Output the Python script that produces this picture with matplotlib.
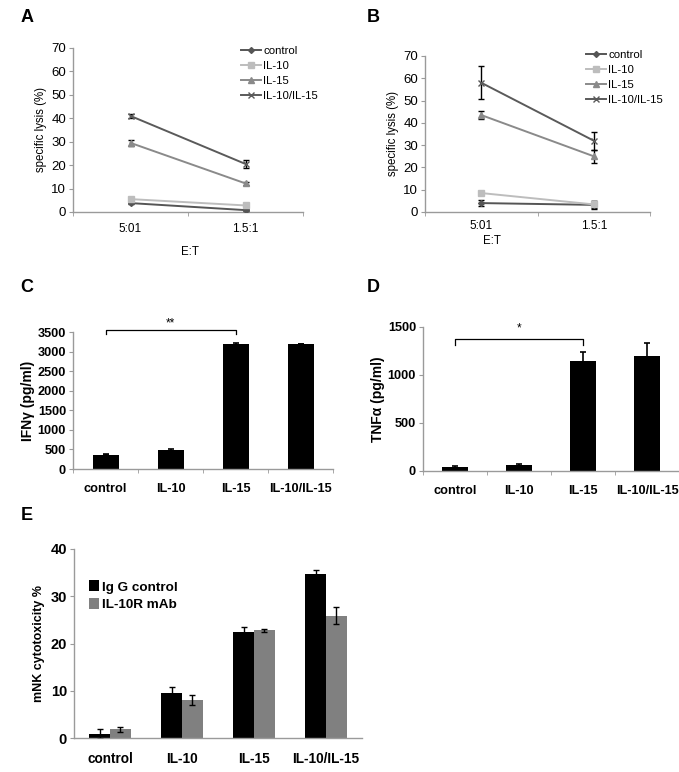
import numpy as np
import matplotlib.pyplot as plt

plt.rcParams['font.family'] = ['Liberation Sans', 'DejaVu Sans']

# cytotoxicity, E:T ratios (panels A, B)
et_labels = ['5:01', '1.5:1']
groups = ['control', 'IL-10', 'IL-15', 'IL-10/IL-15']
lysis_a = [[3.8, 0.8], [5.5, 2.8], [29.5, 12.2], [41.0, 20.5]]
lysis_a_err = [[0.3, 0.3], [0.4, 0.4], [1.2, 0.6], [0.7, 1.6]]
lysis_b = [[4.0, 3.2], [8.5, 3.4], [43.5, 25.0], [58.0, 32.0]]
lysis_b_err = [[1.3, 1.8], [0.5, 1.5], [1.8, 2.8], [7.5, 4.0]]

# cytokines (panels C, D)
cyto_labels = ['control', 'IL-10', 'IL-15', 'IL-10/IL-15']
ifng = [360, 490, 3195, 3195]
ifng_err = [15, 20, 15, 0]
tnfa = [40, 62, 1145, 1195]
tnfa_err = [8, 15, 90, 140]

# mNK cytotoxicity (panel E)
e_labels = ['control', 'IL-10', 'IL-15', 'IL-10/IL-15']
igg = [0.9, 9.6, 22.4, 34.7]
igg_err = [1.1, 1.1, 1.0, 0.9]
mab = [1.8, 8.0, 22.8, 25.9]
mab_err = [0.5, 1.0, 0.3, 1.8]

W, H = 679, 772
fig = plt.figure(figsize=(W / 100, H / 100), dpi=100)


def box(x0, y0, x1, y1):
    # pixel box (top-left origin) -> figure fraction
    return [x0 / W, 1 - y1 / H, (x1 - x0) / W, (y1 - y0) / H]


spine_col = '#9a9a9a'


def style_axes(ax, bold=False, yfs=7.5, xfs=7.5, xpad=8):
    for s in ['top', 'right']:
        ax.spines[s].set_visible(False)
    for s in ['left', 'bottom']:
        ax.spines[s].set_color(spine_col)
        ax.spines[s].set_linewidth(1.0)
    ax.tick_params(axis='y', length=3, color=spine_col, labelsize=yfs, pad=2)
    ax.tick_params(axis='x', which='major', length=0, labelsize=xfs, pad=xpad)
    ax.tick_params(axis='x', which='minor', length=3, color=spine_col)
    if bold:
        for t in ax.get_xticklabels() + ax.get_yticklabels():
            t.set_fontweight('bold')


line_cols = ['#555555', '#bdbdbd', '#8a8a8a', '#5a5a5a']
markers = ['D', 's', '^', 'x']
msizes = [3, 5, 4, 5]


def lysis_panel(rect, vals, errs, legend_xy, xpad):
    ax = fig.add_axes(rect)
    x = np.arange(len(et_labels)) + 0.5
    for i, g in enumerate(groups):
        ax.errorbar(x, vals[i], yerr=errs[i], color=line_cols[i], marker=markers[i],
                    ms=msizes[i], lw=1.4, ecolor='black', elinewidth=1.0,
                    capsize=2.5, capthick=1.0, label=g, zorder=3)
    ax.set_xlim(0, 2)
    ax.set_ylim(0, 70)
    ax.set_yticks(np.arange(0, 71, 10))
    ax.set_xticks(x, et_labels)
    ax.set_xticks([0, 1, 2], minor=True)
    ax.set_ylabel('specific lysis (%)', fontsize=8.3, labelpad=3)
    style_axes(ax, yfs=9.5, xfs=8.5, xpad=xpad)
    h, l = ax.get_legend_handles_labels()
    h = [hh[0] for hh in h]
    fig.legend(h, l, loc='upper left', bbox_to_anchor=legend_xy, frameon=False,
               fontsize=8.2, handlelength=1.8, handletextpad=0.2, labelspacing=0.45,
               borderpad=0)
    return ax


lysis_panel(box(73, 48, 303, 212), lysis_a, lysis_a_err, (235 / W, 1 - 40 / H), 8)
fig.text(190 / W, 1 - 252 / H, 'E:T', ha='center', va='center', fontsize=8.3)
lysis_panel(box(425, 56, 650, 212), lysis_b, lysis_b_err, (580 / W, 1 - 44 / H), 5.5)
fig.text(492 / W, 1 - 241 / H, 'E:T', ha='center', va='center', fontsize=8.3)


def cyto_panel(rect, vals, errs, ymax, ystep, ylabel, stars, bracket_y, star_y):
    ax = fig.add_axes(rect)
    x = np.arange(len(cyto_labels)) + 0.5
    ax.bar(x, vals, width=0.4, color='black', zorder=2)
    ax.errorbar(x, vals, yerr=errs, fmt='none', ecolor='black', elinewidth=1.2,
                capsize=2.5, capthick=1.2, zorder=3)
    ax.set_xlim(0, 4)
    ax.set_ylim(0, ymax)
    ax.set_yticks(np.arange(0, ymax + 1, ystep))
    ax.set_xticks(x, cyto_labels)
    ax.set_xticks([0, 1, 2, 3, 4], minor=True)
    ax.set_ylabel(ylabel, fontsize=10, fontweight='bold', labelpad=2)
    style_axes(ax, bold=True, yfs=9.2, xfs=9.2, xpad=10)
    # significance bracket control vs IL-15
    tick = ymax * 0.035
    ax.plot([x[0], x[0], x[2], x[2]], [bracket_y - tick, bracket_y, bracket_y, bracket_y - tick],
            color='black', lw=0.9, clip_on=False)
    ax.text((x[0] + x[2]) / 2, star_y, stars, ha='center', va='center', fontsize=8.5,
            clip_on=False)
    return ax


cyto_panel(box(73, 332, 333, 469), ifng, ifng_err, 3500, 500, 'IFNγ (pg/ml)', '**', 3560, 3720)
cyto_panel(box(423, 327, 679, 471), tnfa, tnfa_err, 1500, 500, 'TNFα (pg/ml)', '*', 1370, 1480)

# panel E
ax = fig.add_axes(box(74, 549, 362, 738))
x = np.arange(len(e_labels)) + 0.5
bw = 0.29
ax.bar(x - bw / 2, igg, width=bw, color='black', label='Ig G control', zorder=2)
ax.bar(x + bw / 2, mab, width=bw, color='#808080', label='IL-10R mAb', zorder=2)
ax.errorbar(x - bw / 2, igg, yerr=igg_err, fmt='none', ecolor='black', elinewidth=1.0,
            capsize=2.5, capthick=1.0, zorder=3)
ax.errorbar(x + bw / 2, mab, yerr=mab_err, fmt='none', ecolor='black', elinewidth=1.0,
            capsize=2.5, capthick=1.0, zorder=3)
ax.set_xlim(0, 4)
ax.set_ylim(0, 40)
ax.set_yticks(np.arange(0, 41, 10))
ax.set_xticks(x, e_labels)
ax.set_ylabel('mNK cytotoxicity %', fontsize=9, fontweight='bold', labelpad=4)
style_axes(ax, bold=True, yfs=10.5, xfs=9.8, xpad=10)
ax.legend(loc='upper left', bbox_to_anchor=(0.03, 0.87), frameon=False,
          handlelength=0.7, handleheight=0.9, handletextpad=0.2, labelspacing=0.3,
          borderpad=0, prop={'weight': 'bold', 'size': 9.7})

for lab, (px, py) in zip('ABCDE', [(27, 18), (373, 18), (27, 287), (373, 287), (27, 515)]):
    fig.text(px / W, 1 - py / H, lab, fontsize=13, fontweight='bold', ha='center', va='center')

fig.savefig('out.png', dpi=100)
